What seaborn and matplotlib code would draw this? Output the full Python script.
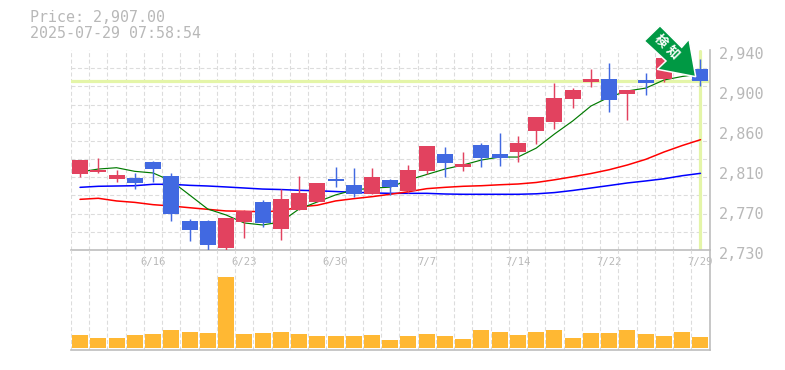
import numpy as np
import pandas as pd
import matplotlib
matplotlib.use("Agg")
import matplotlib.pyplot as plt
from matplotlib.patches import Polygon
from matplotlib.transforms import Affine2D, ScaledTranslation
import seaborn as sns

opens = [2810,2812,2805,2806,2822.4,2808,2760.5,2760.5,2732,2759.4,2780.4,2752,2772,2780.4,2804.5,2798,2789,2803.5,2792,2813,
         2831,2817,2840,2831,2833,2855,2864,2888.5,2906.4,2909.5,2894,2908.5,2909.5,2919,2920]
closes = [2825,2814,2809,2800,2815,2768,2751,2735,2763.6,2771,2758,2784,2790,2800.4,2802.5,2789,2806.6,2796,2814,2839,
          2821,2820,2826.6,2826.6,2842,2869.6,2889.6,2898,2909.5,2887.5,2898,2905,2931.6,2927.4,2907]
highs = [2825,2827,2814,2811,2823.5,2811,2762.5,2761.5,2763.6,2772,2782.5,2794,2807.7,2800.4,2817,2816,2816,2804.5,2819,2839,
         2838,2833,2842,2853,2850,2869.6,2905,2900,2920,2926,2898,2916,2932,2930,2930.5]
lows = [2807,2811,2801,2794,2801,2760,2739.5,2730,2730,2742.6,2754.5,2740.5,2772,2780.4,2796,2785.6,2789,2788,2790,2810,
        2806.6,2813,2817,2818,2822,2841,2857,2879,2901,2875,2866.5,2893,2906,2916,2902]
ma_short = [2811.9,2815,2816.4,2812.6,2810.9,2802.5,2787.8,2773,2766.8,2758.4,2756.3,2759.4,2773,2780.4,2787.8,2793,2795,2796,2803.5,2809.3,
            2815,2819.3,2824.5,2827.6,2827.6,2837,2851.8,2865.5,2881.2,2890.6,2897,2900,2908.5,2912.2,2914.8]
ma_mid = [2783.2,2784.3,2781.5,2780,2777.6,2776.2,2774.4,2772.7,2771,2770.6,2770.2,2771,2775.2,2777,2781.5,2783.9,2786,2788.5,2791.2,2794.4,
          2795.8,2796.9,2797.5,2798.5,2799.3,2800.9,2803.7,2806.9,2810.3,2814.3,2819.3,2825.2,2832.9,2839.7,2845.8]
ma_long = [2795.8,2796.9,2797.2,2797.5,2799,2799,2797.9,2797.2,2796.2,2795.1,2794,2793.5,2792.7,2792.2,2791.4,2790.6,2789.9,2789.5,2789.5,2789.5,
           2788.8,2788.5,2788.5,2788.5,2788.5,2789,2790.3,2792.5,2795.1,2797.7,2800.4,2802.5,2804.8,2808,2810.5]
volume = [13,10,10,13,14,18,16,15,71,14,15,16,14,12,12,12,13,8,12,14,12,9,18,16,13,16,18,10,15,15,18,14,12,16,11]
date_ticks = [4,9,14,19,24,29,34]
date_labels = ["6/16","6/23","6/30","7/7","7/14","7/22","7/29"]
price_ticks = [2940,2898,2856,2814,2772,2730]
price_labels = ["2,940","2,900","2,860","2,810","2,770","2,730"]
last_price = 2907
title_lines = ["Price: 2,907.00","2025-07-29 07:58:54"]

sns.set_style("white")
plt.rcParams["font.family"] = ["DejaVu Sans Mono","Noto Sans CJK JP"]

W,H = 785,370
GRAY="#bdbdbd"; GRID="#dcdcdc"; TXT="#b8b8b8"; HL="#e4f5a8"
UP="#e2425f"; DOWN="#4169e1"; VOL="#ffb833"
GRID_LS=(0,(3.6,2.2))
fig = plt.figure(figsize=(W/100,H/100),dpi=100,facecolor="white")
L,R = 70.9,709.6
ax = fig.add_axes([L/W,1-250/H,(R-L)/W,200/H])
av = fig.add_axes([L/W,1-350/H,(R-L)/W,100/H])

n=len(opens); idx=np.arange(n)
df = pd.DataFrame(dict(i=idx,o=opens,c=closes,h=highs,l=lows,s=ma_short,m=ma_mid,g=ma_long,v=volume))
df["col"]=np.where(df.c>=df.o,UP,DOWN)

ax.axhline(last_price,color=HL,lw=2.3,zorder=1.5)
ax.axvline(n-1,color=HL,lw=2.3,zorder=1.5,ymax=0.995)
sns.lineplot(data=df,x="i",y="g",ax=ax,color="#0000ff",lw=1.1,zorder=2)
sns.lineplot(data=df,x="i",y="m",ax=ax,color="#ff0000",lw=1.1,zorder=2)
sns.lineplot(data=df,x="i",y="s",ax=ax,color="#007a00",lw=0.85,zorder=2)
ax.vlines(df.i,df.l,df.h,colors=df.col,lw=1.05,zorder=3)
ax.bar(df.i,(df.c-df.o).abs(),bottom=df[["o","c"]].min(axis=1),width=16/18.25,color=df.col,lw=0,zorder=3)

sns.barplot(data=df,x="i",y="v",ax=av,native_scale=True,color=VOL,width=16/18.25,saturation=1,lw=0,zorder=3)

edges = np.arange(n+1)-0.5
for a in (ax,av):
    a.set_xlim(-0.5,n-0.5)
    a.set_xticks(edges,minor=True)
    a.set_xlabel(""); a.set_ylabel("")
    a.grid(True,which="minor",axis="x",color=GRID,ls=GRID_LS,lw=0.8,zorder=0)
    a.grid(False,which="major")
    a.set_axisbelow(True)
    a.patch.set_alpha(0)
    for s in ("top","left"): a.spines[s].set_visible(False)
    for s in ("bottom","right"):
        a.spines[s].set_color(GRAY); a.spines[s].set_linewidth(1.2)
    a.tick_params(which="both",length=0)

ax.set_ylim(2730,2940)
ax.set_yticks(np.linspace(2730,2940,12),minor=True)
ax.grid(True,which="minor",axis="y",color=GRID,ls=GRID_LS,lw=0.8,zorder=0)
ax.yaxis.tick_right()
ax.set_yticks(price_ticks,price_labels)
ax.tick_params(axis="y",which="major",pad=6.5,labelsize=10.9,labelcolor=TXT)
off = ScaledTranslation(0,-3/100,fig.dpi_scale_trans)
for t in ax.get_yticklabels():
    t.set_transform(t.get_transform()+off)
ax.set_xticks(date_ticks,date_labels)
ax.tick_params(axis="x",which="major",pad=5,labelsize=7.6,labelcolor=TXT)

av.set_ylim(-1.7,98.3)
av.set_yticks([])
av.set_xticks([])

fig.text(30/W,1-18/H,title_lines[0],color=TXT,fontsize=10.8,va="center",ha="left")
fig.text(30/W,1-33/H,title_lines[1],color=TXT,fontsize=10.8,va="center",ha="left")

px = Affine2D().scale(1/W,-1/H).translate(0,1)+fig.transFigure
arrow = [(660,25.7),(644.3,41),(666,61),(657.3,69.3),(695.7,76.7),(689,39),(681.7,47.3)]
fig.add_artist(Polygon(arrow,closed=True,transform=px,facecolor="#009944",edgecolor="white",lw=1.1,zorder=10,joinstyle="miter"))
for ch,(x,y) in zip("検知",[(660,41.7),(672,53)]):
    fig.text(x/W,1-y/H,ch,color="white",fontsize=9.2,fontweight="bold",rotation=-45,ha="center",va="center",
             family=["Noto Sans CJK JP"],zorder=11,rotation_mode="anchor")

fig.savefig("out.png",dpi=100,facecolor="white")
